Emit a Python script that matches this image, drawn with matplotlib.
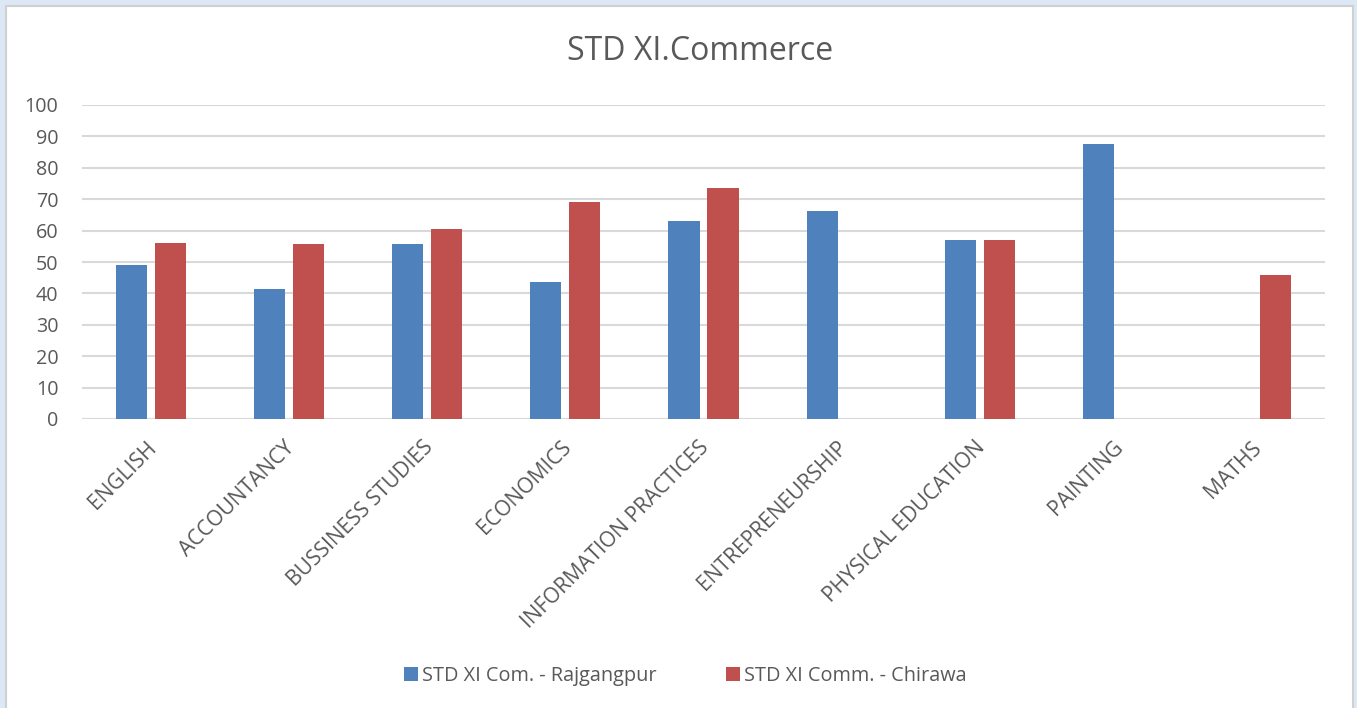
import numpy as np
import matplotlib.pyplot as plt
import matplotlib.transforms as mtrans
from matplotlib.patches import Rectangle

plt.rcParams['font.family'] = ['Open Sans', 'DejaVu Sans']

# Data
subjects = ['ENGLISH', 'ACCOUNTANCY', 'BUSSINESS STUDIES', 'ECONOMICS',
            'INFORMATION PRACTICES', 'ENTREPRENEURSHIP', 'PHYSICAL EDUCATION',
            'PAINTING', 'MATHS']
rajgangpur = [49.2, 41.4, 55.8, 43.7, 63.1, 66.3, 57.0, 87.7, 0]
chirawa = [56.0, 55.8, 60.6, 69.2, 73.5, 0, 57.0, 0, 45.9]

blue = '#4F81BD'
red = '#C0504D'
txt = '#595959'

fig = plt.figure(figsize=(13.57, 7.08), dpi=100)
fig.patch.set_facecolor('#DCE8F5')
# white chart area with thin grey edge
fig.patches.append(Rectangle((6 / 1357, -0.01), 1347 / 1357, 1 - 6 / 708 + 0.01,
                             transform=fig.transFigure, facecolor='white',
                             edgecolor='#D0D0D0', lw=1.5, zorder=-5))

ax = fig.add_axes([82 / 1357, 1 - 419 / 708, 1243 / 1357, 314 / 708])
ax.set_facecolor('none')

x = np.arange(len(subjects))
w = 0.225
off = 0.141
ax.bar(x - off, rajgangpur, w, color=blue, label='STD XI Com. - Rajgangpur', zorder=3)
ax.bar(x + off, chirawa, w, color=red, label='STD XI Comm. - Chirawa', zorder=3)

ax.set_xlim(-0.5, len(subjects) - 0.5)
ax.set_ylim(0, 100)
ax.set_yticks(np.arange(0, 101, 10))
ax.yaxis.grid(True, color='#D9D9D9', lw=1.5, zorder=0)
for s in ax.spines.values():
    s.set_visible(False)
ax.axhline(0, color='#D9D9D9', lw=1.5, zorder=1)
ax.tick_params(axis='both', length=0, colors=txt, labelsize=14.2)
ax.tick_params(axis='y', pad=17)
ax.set_xticks(x)
ax.set_xticklabels(subjects, rotation=45, ha='right', rotation_mode='anchor',
                   fontsize=15.2)
ax.tick_params(axis='x', pad=13)
shift = mtrans.ScaledTranslation(-5 / 100, 0, fig.dpi_scale_trans)
for lbl in ax.get_xticklabels():
    lbl.set_transform(lbl.get_transform() + shift)

fig.text(0.516, 1 - 52 / 708, 'STD XI.Commerce', ha='center', va='center',
         fontsize=23, color=txt)

leg = fig.legend(loc='center', bbox_to_anchor=(0.505, 1 - 676 / 708), ncol=2,
                 frameon=False, fontsize=14.3, handlelength=0.7, handleheight=0.7,
                 handletextpad=0.2, columnspacing=3.5, labelcolor=txt)

fig.savefig('out.png', dpi=100)
